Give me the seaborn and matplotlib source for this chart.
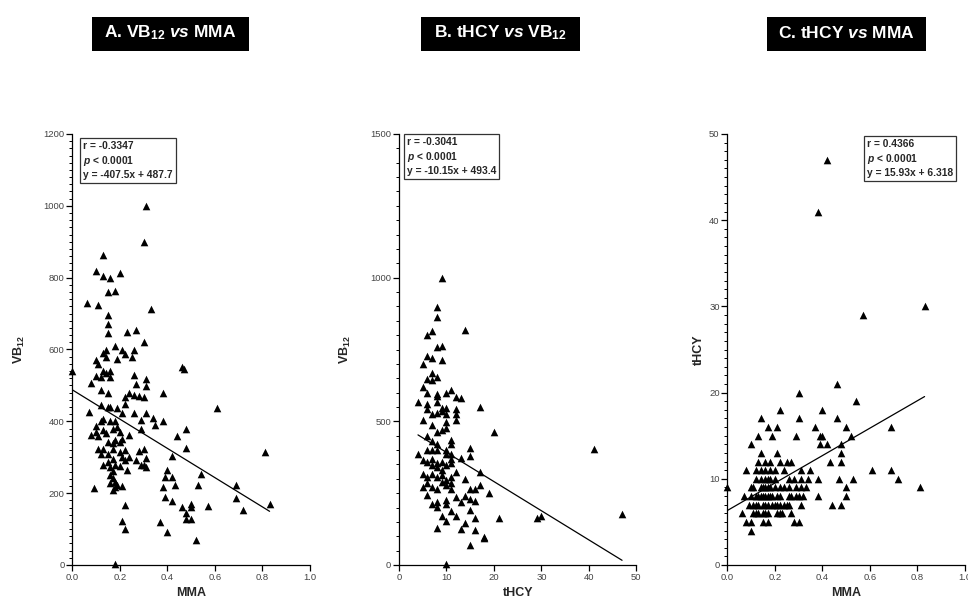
import numpy as np
import pandas as pd
import matplotlib
matplotlib.use("Agg")
import matplotlib.pyplot as plt
from matplotlib.patches import Rectangle
from matplotlib.ticker import MultipleLocator, FormatStrFormatter
import seaborn as sns

# ---- Panel A: VB12 vs MMA ----
mma_a = [0.31, 0.30, 0.13, 0.10, 0.13, 0.16, 0.20, 0.15, 0.18, 0.06,
         0.11, 0.33, 0.15, 0.15, 0.15, 0.23, 0.27, 0.30, 0.18, 0.14,
         0.21, 0.26, 0.13, 0.22, 0.14, 0.25, 0.19, 0.10, 0.11, 0.00,
         0.46, 0.47, 0.13, 0.14, 0.16, 0.10, 0.12, 0.16, 0.26, 0.31,
         0.08, 0.27, 0.31, 0.12, 0.15, 0.38, 0.22, 0.24, 0.26, 0.28,
         0.30,
         0.12, 0.15, 0.16, 0.19, 0.21, 0.22, 0.07,
         0.13, 0.12, 0.10, 0.16, 0.18,
         0.26, 0.31, 0.29, 0.34, 0.35, 0.38,
         0.10, 0.13, 0.14, 0.11, 0.08,
         0.17, 0.19, 0.20, 0.21, 0.20, 0.24, 0.29,
         0.17, 0.15, 0.18,
         0.44, 0.48, 0.48, 0.42,
         0.11, 0.13, 0.12, 0.15, 0.17, 0.20, 0.22, 0.21, 0.24, 0.28,
         0.30, 0.31, 0.27, 0.22, 0.20, 0.23,
         0.13, 0.15, 0.17, 0.16, 0.18, 0.17, 0.16, 0.17, 0.18, 0.16,
         0.18, 0.17, 0.19, 0.21,
         0.29, 0.31, 0.30, 0.09,
         0.40, 0.39, 0.42, 0.43, 0.38, 0.39, 0.42, 0.46, 0.50, 0.50,
         0.48, 0.48, 0.50, 0.52, 0.37, 0.40, 0.22, 0.21, 0.22, 0.18,
         0.54, 0.53, 0.61, 0.81, 0.69, 0.69, 0.72, 0.83, 0.57]
vb12_a = [1000, 900, 863, 819, 805, 800, 812, 761, 764, 730,
          724, 714, 697, 670, 645, 650, 655, 620, 611, 599,
          599, 599, 589, 587, 579, 580, 573, 572, 560, 539,
          550, 547, 541, 535, 540, 527, 523, 524, 530, 519,
          506, 504, 498, 488, 480, 478, 467, 478, 472, 471,
          467,
          446, 441, 439, 437, 424, 448, 425,
          407, 400, 387, 402, 400,
          424, 424, 404, 409, 389, 402,
          371, 376, 367, 359, 361,
          378, 385, 371, 352, 342, 361, 378,
          340, 342, 348,
          360, 378, 327, 303,
          323, 322, 308, 308, 324, 315, 320, 300, 300, 318,
          323, 299, 291, 291, 276, 264,
          278, 287, 296, 274, 279, 261, 251, 241, 232, 227,
          218, 209, 222, 221,
          278, 274, 278, 213,
          264, 244, 244, 222, 218, 190, 179, 162, 169, 161,
          144, 128, 128, 70, 119, 92, 168, 123, 99, 2,
          253, 222, 438, 316, 222, 187, 152, 169, 164]
fit_a = {"r": "-0.3347", "slope": -407.5, "intercept": 487.7}

# ---- Panel B: VB12 vs tHCY ----
thcy_b = [9, 8, 8, 14, 6, 7, 8, 9, 6, 7,
          9, 5, 7, 6, 7, 8, 5, 6, 8, 8,
          10, 11, 12, 13, 4, 6, 8, 6, 9, 10,
          12, 17, 7, 8, 9, 10, 12, 12, 5, 10,
          7, 8, 9, 10, 20, 6, 7, 8, 11, 11,
          7, 8, 6, 10, 15, 15, 4, 5, 6, 7,
          8, 9, 10, 11, 11, 13, 7, 8, 9, 10,
          11, 17, 12, 5, 6, 7, 8, 9, 10, 11,
          11, 14, 5, 6, 7, 8, 9, 10, 11, 15,
          16, 17, 19, 6, 7, 8, 8, 10, 10, 12,
          13, 14, 15, 16, 11, 12, 9, 10, 13, 14,
          16, 15, 8, 16, 18, 18, 15, 21, 10, 29,
          30, 41, 47]
vb12_b = [1000, 897, 862, 818, 799, 813, 760, 763, 727, 722,
          714, 698, 669, 648, 644, 654, 619, 598, 596, 587,
          598, 610, 584, 581, 569, 559, 569, 543, 547, 547,
          544, 550, 524, 529, 536, 527, 527, 506, 506, 498,
          486, 463, 471, 478, 463, 448, 432, 422, 436, 422,
          399, 399, 399, 399, 407, 378, 388, 365, 359, 369,
          355, 359, 385, 388, 369, 374, 347, 341, 330, 347,
          355, 324, 324, 318, 307, 318, 307, 312, 295, 307,
          284, 301, 270, 286, 270, 263, 289, 278, 263, 263,
          263, 278, 252, 243, 212, 203, 220, 226, 212, 237,
          220, 240, 231, 223, 188, 171, 170, 154, 127, 145,
          162, 191, 130, 122, 98, 93, 69, 162, 2, 164,
          169, 402, 178]
fit_b = {"r": "-0.3041", "slope": -10.15, "intercept": 493.4}

# ---- Panel C: tHCY vs MMA ----
mma_c = [0.42, 0.38, 0.83, 0.57, 0.46, 0.30, 0.54, 0.22, 0.40,
         0.14, 0.30, 0.46,
         0.17, 0.21, 0.37, 0.50, 0.69,
         0.13, 0.19, 0.29, 0.39, 0.40, 0.52,
         0.10, 0.39, 0.42, 0.48,
         0.14, 0.21, 0.48,
         0.13, 0.16, 0.18, 0.22, 0.25, 0.27, 0.43, 0.48,
         0.08, 0.12, 0.14, 0.16, 0.18, 0.20, 0.24, 0.31, 0.35, 0.61, 0.69,
         0.12, 0.14, 0.16, 0.17, 0.18, 0.20, 0.26, 0.28, 0.31, 0.34,
         0.38, 0.47, 0.53, 0.72,
         0.00, 0.10, 0.11, 0.14, 0.15, 0.16, 0.17, 0.18, 0.20, 0.22,
         0.24, 0.26, 0.29, 0.31, 0.33, 0.50, 0.81,
         0.07, 0.10, 0.12, 0.13, 0.14, 0.15, 0.16, 0.17, 0.18, 0.19,
         0.21, 0.22, 0.26, 0.27, 0.29, 0.30, 0.32, 0.38, 0.50,
         0.09, 0.11, 0.12, 0.13, 0.15, 0.16, 0.17, 0.19, 0.20, 0.21,
         0.22, 0.24, 0.25, 0.26, 0.31, 0.44, 0.48,
         0.06, 0.11, 0.12, 0.13, 0.15, 0.16, 0.17, 0.21, 0.22, 0.23, 0.27,
         0.08, 0.10, 0.15, 0.17, 0.28, 0.30,
         0.10]
thcy_c = [47, 41, 30, 29, 21, 20, 19, 18, 18,
          17, 17, 17,
          16, 16, 16, 16, 16,
          15, 15, 15, 15, 15, 15,
          14, 14, 14, 14,
          13, 13, 13,
          12, 12, 12, 12, 12, 12, 12, 12,
          11, 11, 11, 11, 11, 11, 11, 11, 11, 11, 11,
          10, 10, 10, 10, 10, 10, 10, 10, 10, 10,
          10, 10, 10, 10,
          9, 9, 9, 9, 9, 9, 9, 9, 9, 9,
          9, 9, 9, 9, 9, 9, 9,
          8, 8, 8, 8, 8, 8, 8, 8, 8, 8,
          8, 8, 8, 8, 8, 8, 8, 8, 8,
          7, 7, 7, 7, 7, 7, 7, 7, 7, 7,
          7, 7, 7, 7, 7, 7, 7,
          6, 6, 6, 6, 6, 6, 6, 6, 6, 6, 6,
          5, 5, 5, 5, 5, 5,
          4]
fit_c = {"r": "0.4366", "slope": 15.93, "intercept": 6.318}

panel_titles = [r"A. VB$_{\mathbf{12}}$ $\mathit{vs}$ MMA",
                r"B. tHCY $\mathit{vs}$ VB$_{\mathbf{12}}$",
                r"C. tHCY $\mathit{vs}$ MMA"]

# ---- style ----
sns.set_style("ticks")
plt.rcParams["font.family"] = ["Liberation Sans", "DejaVu Sans"]
plt.rcParams["mathtext.fontset"] = "custom"
plt.rcParams["mathtext.rm"] = "Liberation Sans:bold"
plt.rcParams["mathtext.bf"] = "Liberation Sans:bold"
plt.rcParams["mathtext.it"] = "Liberation Sans:italic:bold"

W, H = 968, 600
fig = plt.figure(figsize=(W / 100, H / 100), dpi=100)
fig.patch.set_facecolor("white")


def axes_px(x0, x1, y_top, y_bot):
    return fig.add_axes([x0 / W, 1 - y_bot / H, (x1 - x0) / W, (y_bot - y_top) / H])


def draw_panel(ax, x, y, fit, xlim, ylim, xmaj, ymaj, ymin, xfmt,
               xlabel, ylabel, ylab_x, box_xy):
    df = pd.DataFrame({"x": x, "y": y})
    sns.scatterplot(data=df, x="x", y="y", marker="^", color="black",
                    s=30, linewidth=0, ax=ax, clip_on=False, zorder=3)
    xs = np.array([min(x), max(x)])
    sns.lineplot(x=xs, y=fit["slope"] * xs + fit["intercept"],
                 color="black", linewidth=0.9, ax=ax)
    ax.set_xlim(*xlim)
    ax.set_ylim(*ylim)
    ax.xaxis.set_major_locator(MultipleLocator(xmaj))
    ax.xaxis.set_major_formatter(FormatStrFormatter(xfmt))
    ax.yaxis.set_major_locator(MultipleLocator(ymaj))
    ax.yaxis.set_minor_locator(MultipleLocator(ymin))
    ax.yaxis.set_major_formatter(FormatStrFormatter("%d"))
    for side in ("top", "right"):
        ax.spines[side].set_visible(False)
    for side in ("left", "bottom"):
        ax.spines[side].set_linewidth(0.9)
        ax.spines[side].set_color("black")
    ax.tick_params(which="major", direction="out", length=4, width=0.9,
                   labelsize=6.8, labelcolor="#444444", color="black", pad=1.5)
    ax.tick_params(which="minor", direction="out", length=2.2, width=0.7,
                   color="black")
    ax.set_xlabel(xlabel, fontsize=9, fontweight="bold")
    ax.set_ylabel(ylabel, fontsize=9, fontweight="bold")
    ax.xaxis.set_label_coords(0.5, -0.052)
    ax.yaxis.set_label_coords(ylab_x, 0.5)
    txt = (f"r = {fit['r']}\n$p$ < 0.0001\n"
           f"y = {fit['slope']:g}x + {fit['intercept']:g}")
    tx, ty = box_xy
    fig.text(tx / W, 1 - ty / H, txt, ha="left", va="top", fontsize=7.4,
             fontweight="bold", linespacing=1.3,
             bbox=dict(boxstyle="square,pad=0.28", fc="white", ec="#333333", lw=0.9))
    ax.set_facecolor("none")


axA = axes_px(72.3, 310.0, 134, 565)
draw_panel(axA, mma_a, vb12_a, fit_a, (0, 1.0), (0, 1200), 0.2, 200, 20,
           "%.1f", "MMA", r"VB$_{\mathbf{12}}$", -0.19, (83, 141))

axB = axes_px(399.0, 636.3, 134, 565)
draw_panel(axB, thcy_b, vb12_b, fit_b, (0, 50), (0, 1500), 10, 500, 50,
           "%d", "tHCY", r"VB$_{\mathbf{12}}$", -0.195, (407, 137))

axC = axes_px(727.3, 965.0, 134, 565)
draw_panel(axC, mma_c, thcy_c, fit_c, (0, 1.0), (0, 50), 0.2, 10, 1,
           "%.1f", "MMA", "tHCY", -0.095, (867, 139))

# headline boxes
for (x0, x1), title in zip([(92, 249), (421, 580), (767, 926)], panel_titles):
    y0, y1 = 17, 51
    fig.add_artist(Rectangle((x0 / W, 1 - y1 / H), (x1 - x0) / W, (y1 - y0) / H,
                             transform=fig.transFigure, facecolor="black",
                             edgecolor="none"))
    fig.text((x0 + x1) / 2 / W, 1 - 33 / H, title, ha="center", va="center",
             color="white", fontsize=12.5, fontweight="bold")

fig.savefig("out.png", dpi=100, facecolor="white")
